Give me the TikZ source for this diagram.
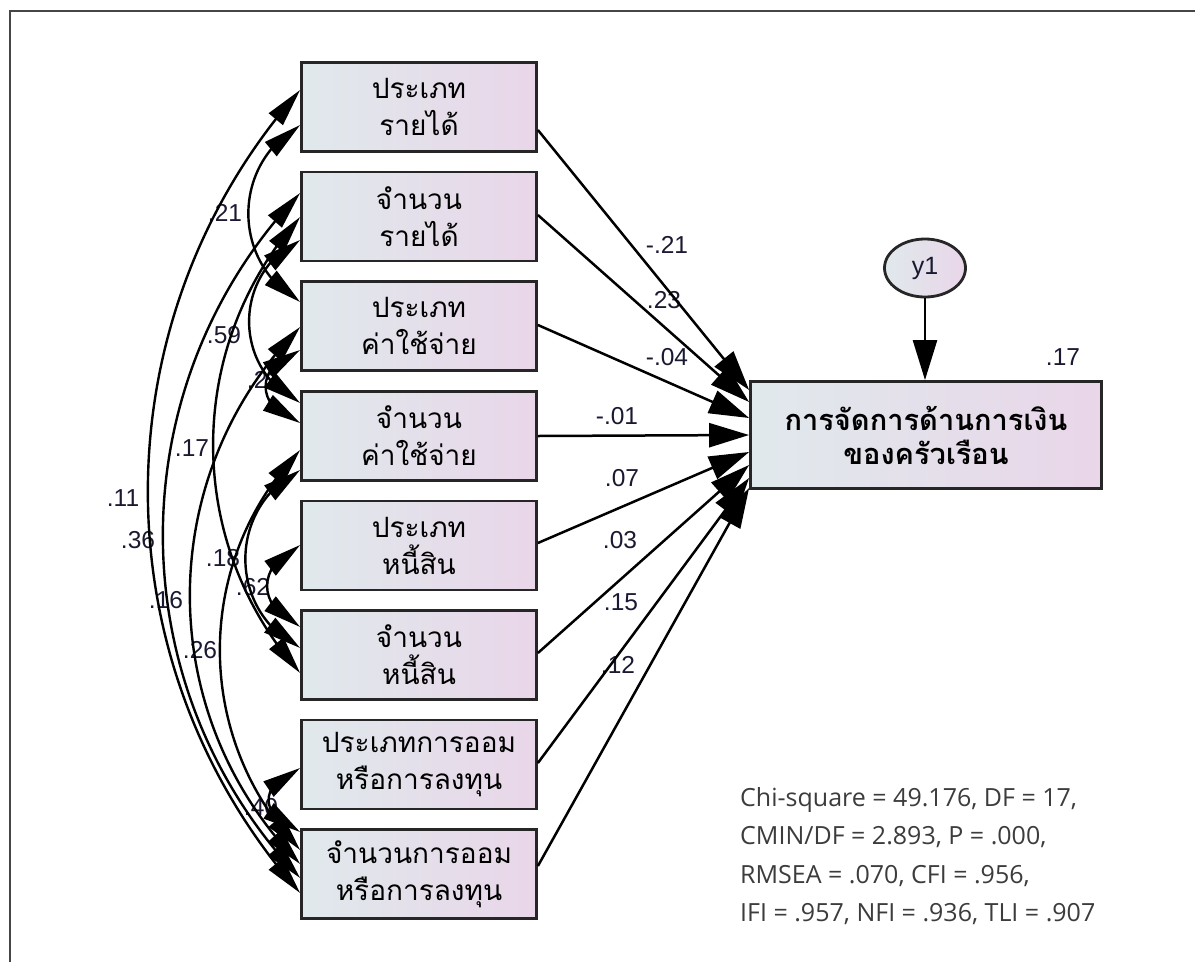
\documentclass[tikz,border=0pt]{standalone}
\usepackage{fontspec}
\setmainfont{Liberation Sans}
\newfontfamily\thaifont[Script=Thai]{Loma}
\newfontfamily\statfont{Open Sans}
\usetikzlibrary{arrows.meta,shapes.geometric,bending}
\definecolor{boxL}{RGB}{224,233,236}
\definecolor{boxR}{RGB}{233,214,233}
\definecolor{lbl}{RGB}{25,25,50}
\definecolor{statgray}{RGB}{60,60,60}
\definecolor{framegray}{RGB}{70,70,70}
\begin{document}
\begin{tikzpicture}[x=1pt,y=-1pt,
  var/.style={draw=black!85, line width=2.8pt, left color=boxL, right color=boxR,
    minimum width=235pt, minimum height=89pt, inner sep=0pt, align=center,
    font=\thaifont\fontsize{28}{37}\selectfont},
  outvar/.style={var, minimum width=351pt, minimum height=107pt,
    font=\thaifont\bfseries\fontsize{29}{34}\selectfont},
  err/.style={draw=black!85, line width=2.8pt, ellipse, left color=boxL, right color=boxR,
    minimum width=81pt, minimum height=58pt, inner sep=0pt, font=\fontsize{25}{25}\selectfont, text=lbl},
  lab/.style={font=\fontsize{24.5}{25}\selectfont, text=lbl, inner sep=0pt},
  regpath/.style={line width=2.5pt, -{Triangle[length=40pt,width=24pt]}},
  cov/.style={line width=2.4pt, {Triangle[length=38pt,width=18pt,flex]}-{Triangle[length=38pt,width=18pt,flex]}}
]
\useasboundingbox (0,0) rectangle (1195,962);
\fill[white] (0,0) rectangle (1195,962);
\draw[framegray, line width=1.2pt] (10,962) -- (10,11) -- (1195,11);

% variables
\node[var] (b1) at (419,107) {ประเภท\\รายได้};
\node[var] (b2) at (419,216.5) {จำนวน\\รายได้};
\node[var] (b3) at (419,326) {ประเภท\\ค่าใช้จ่าย};
\node[var] (b4) at (419,436) {จำนวน\\ค่าใช้จ่าย};
\node[var] (b5) at (419,545.5) {ประเภท\\หนี้สิน};
\node[var] (b6) at (419,655) {จำนวน\\หนี้สิน};
\node[var] (b7) at (419,764.5) {ประเภทการออม\\หรือการลงทุน};
\node[var] (b8) at (419,874) {จำนวนการออม\\หรือการลงทุน};
\node[outvar] (y) at (926,435) {การจัดการด้านการเงิน\\ของครัวเรือน};
\node[err] (e) at (925,268) {y1};

% labels
\node[lab] (r2) at (1063,357) {.17};
\node[lab] (p1) at (667,245) {-.21};
\node[lab] (p2) at (664,300) {.23};
\node[lab] (p3) at (667,357) {-.04};
\node[lab] (p4) at (617,416) {-.01};
\node[lab] (p5) at (622,478) {.07};
\node[lab] (p6) at (620,540) {.03};
\node[lab] (p7) at (621,602) {.15};
\node[lab] (p8) at (618,665) {.12};

\node[lab] (c13) at (225,213) {.21};
\node[lab] (c24) at (224,335) {.59};
\node[lab] (c34) at (264,380) {.21};
\node[lab] (c26) at (192,448) {.17};
\node[lab] (c18) at (123,498) {.11};
\node[lab] (c28) at (138,540) {.36};
\node[lab] (c38) at (166,600) {.16};
\node[lab] (c46) at (223,558) {.18};
\node[lab] (c56) at (253,587) {.62};
\node[lab] (c48) at (200,650) {.26};
\node[lab] (c78) at (261,807) {.40};

% regression paths
\draw[regpath] (e.south) -- (e.south |- y.north);
\draw[regpath] ([yshift=-23pt]b1.east) -- ([yshift=45pt]y.west);
\draw[regpath] ([yshift=1.5pt]b2.east) -- ([yshift=33pt]y.west);
\draw[regpath] ([yshift=1pt]b3.east) -- ([yshift=17pt]y.west);
\draw[regpath] (b4.east) -- (y.west);
\draw[regpath] ([yshift=2.5pt]b5.east) -- ([yshift=-17pt]y.west);
\draw[regpath] ([yshift=2pt]b6.east) -- ([yshift=-30pt]y.west);
\draw[regpath] ([yshift=1.5pt]b7.east) -- ([yshift=-43pt]y.west);
\draw[regpath] ([yshift=8pt]b8.east) -- ([yshift=-53pt]y.west);

% covariances
\draw[cov] ([yshift=17pt]b1.west) .. controls +(-203,229) and +(-203,-229) .. ([yshift=-19pt]b8.west);
\draw[cov] ([yshift=23.5pt]b2.west) .. controls +(-183,192) and +(-183,-192) .. ([yshift=-4pt]b8.west);
\draw[cov] ([yshift=-1pt]b3.west) .. controls +(-147,149) and +(-147,-149) .. ([yshift=10pt]b8.west);
\draw[cov] ([yshift=-14pt]b4.west) .. controls +(-107,112) and +(-107,-112) .. ([yshift=24pt]b8.west);
\draw[cov] ([yshift=-3.5pt]b7.west) .. controls +(-42,16) and +(-42,-16) .. ([yshift=42pt]b8.west);
\draw[cov] ([yshift=0.5pt]b5.west) .. controls +(-44,20) and +(-44,-20) .. ([yshift=28pt]b6.west);
\draw[cov] ([yshift=-18pt]b1.west) .. controls +(-69,39) and +(-69,-39) .. ([yshift=24pt]b3.west);
\draw[cov] ([yshift=-23.5pt]b2.west) .. controls +(-68,33) and +(-68,-33) .. ([yshift=33pt]b4.west);
\draw[cov] ([yshift=-24pt]b3.west) .. controls +(-46,14) and +(-46,-14) .. ([yshift=13pt]b4.west);
\draw[cov] ([yshift=-0.5pt]b2.west) .. controls +(-116,130) and +(-116,-130) .. ([yshift=-18pt]b6.west);
\draw[cov] ([yshift=-34pt]b4.west) .. controls +(-73,37) and +(-73,-37) .. ([yshift=7pt]b6.west);

% fit statistics
\node[anchor=west, inner sep=0pt, align=left, text=statgray,
  font=\statfont\fontsize{25}{38.5}\selectfont] (stats) at (740,856)
  {Chi-square = 49.176, DF = 17,\\CMIN/DF = 2.893, P = .000,\\RMSEA = .070, CFI = .956,\\IFI = .957, NFI = .936, TLI = .907};
\end{tikzpicture}
\end{document}
